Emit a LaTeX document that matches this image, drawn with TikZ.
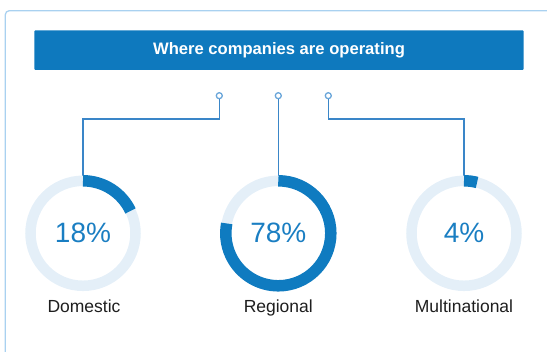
\documentclass[tikz,border=0pt]{standalone}
\usepackage{fontspec}
\setmainfont{Liberation Sans}
\usepackage{tikz}

\definecolor{barblue}{HTML}{0E79BE}
\definecolor{arcblue}{HTML}{0F7BC0}
\definecolor{ringlight}{HTML}{E4EFF8}
\definecolor{connblue}{HTML}{3A86C8}
\definecolor{dotblue}{HTML}{6AA6DA}
\definecolor{framelight}{HTML}{A9D1F0}
\definecolor{pctblue}{HTML}{1A7EC2}
\definecolor{lbltext}{HTML}{1E1E1E}

\begin{document}
\begin{tikzpicture}[x = 1pt, y = 1pt,
                        dot/.style = {circle, draw = dotblue, fill = white, line width = 1.3pt, inner sep = 0pt, minimum size = 6pt},
                        conn/.style = {draw = connblue, line width = 1.6pt},
                        ringbase/.style = {draw = ringlight, line width = 10.5pt},
                        ringbar/.style = {draw = arcblue, line width = 11.5pt},
                        pct/.style = {text = pctblue, font = \fontsize{28}{30}\selectfont},
                        lbl/.style = {text = lbltext, anchor = base, font = \fontsize{17.5}{20}\selectfont}]
      \useasboundingbox (0, 0) rectangle (547, 352);
      \clip (0, 0) rectangle (547, 352);

      % frame and title bar
      \draw [framelight, line width = 1.3pt, rounded corners = 4pt] (5.3, -10) rectangle (600, 341.3);
      \node [fill = barblue, rounded corners = 1pt, minimum width = 489.4pt, minimum height = 39.7pt, inner sep = 0pt,
             text = white, font = \bfseries\fontsize{16.6}{19}\selectfont] (title) at (279, 301.85) {Where companies are operating};

      % rings
      \coordinate (r1) at (83, 118.7);
      \coordinate (r2) at (278.3, 118.7);
      \coordinate (r3) at (464, 118.7);
      \coordinate (t1) at (83, 176.2);
      \coordinate (t2) at (278.3, 176.2);
      \coordinate (t3) at (464, 176.2);

      \node [dot] (d1) at (219.3, 256.3){};
      \node [dot] (d2) at (278.3, 256.3){};
      \node [dot] (d3) at (328.3, 256.3){};

      \draw [conn] (d1) -- ++(0, -23.6) -| (t1);
      \draw [conn] (d2) -- (t2);
      \draw [conn] (d3) -- ++(0, -23.6) -| (t3);

      \draw [ringbase] (r1) circle (52.5);
      \draw [ringbase] (r2) circle (52.5);
      \draw [ringbase] (r3) circle (52.5);

      \draw [ringbar] (r1) ++(90:52.5) arc [start angle = 90, end angle = 25.2, radius = 52.5];
      \draw [ringbar] (r2) ++(90:52.5) arc [start angle = 90, end angle = -190.8, radius = 52.5];
      \draw [ringbar] (r3) ++(90:52.5) arc [start angle = 90, end angle = 75.6, radius = 52.5];

      \node [pct] (p1) at (r1) {18\%};
      \node [pct] (p2) at (r2) {78\%};
      \node [pct] (p3) at (r3) {4\%};

      \node [lbl] (l1) at (84, 39) {Domestic};
      \node [lbl] (l2) at (278.3, 39) {Regional};
      \node [lbl] (l3) at (464, 39) {Multinational};
      \end{tikzpicture}
\end{document}
